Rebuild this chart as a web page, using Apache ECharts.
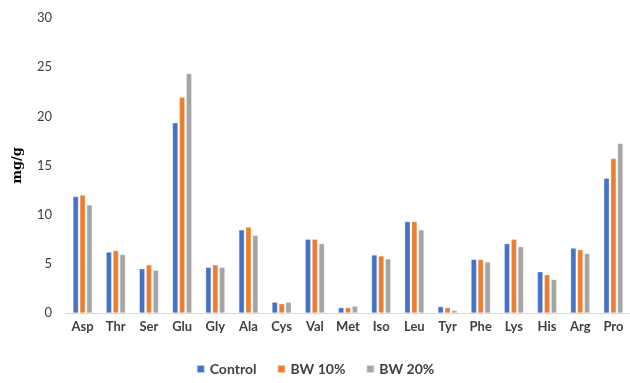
<!DOCTYPE html>
<html><head><meta charset="utf-8">
<script src="https://cdn.jsdelivr.net/npm/echarts@6/dist/echarts.min.js"></script>
<style>html,body{margin:0;padding:0;background:#fff}#c{width:630px;height:383px}</style>
</head><body><div id="c"></div>
<script>
const categories = ['Asp','Thr','Ser','Glu','Gly','Ala','Cys','Val','Met','Iso','Leu','Tyr','Phe','Lys','His','Arg','Pro'];
const control = [11.85,6.2,4.5,19.35,4.65,8.45,1.1,7.5,0.55,5.9,9.3,0.65,5.45,7.05,4.2,6.6,13.7];
const bw10 = [12.0,6.35,4.9,21.95,4.9,8.75,0.95,7.5,0.55,5.8,9.3,0.55,5.45,7.5,3.9,6.45,15.7];
const bw20 = [11.0,5.95,4.35,24.35,4.65,7.9,1.1,7.05,0.7,5.5,8.45,0.25,5.2,6.75,3.4,6.05,17.25];
const yTicks = [0,5,10,15,20,25,30];

const font = 'Lato, "Noto Sans", sans-serif';
const chart = echarts.init(document.getElementById('c'));
function s(name, data, color){
  return {name, type:'bar', data, barWidth:5.5, barGap:'25%',
    itemStyle:{color, borderColor:'rgba(255,255,255,0.6)', borderWidth:0.5}};
}
chart.setOption({
  animation:false,
  grid:{left:66, right:-2, top:18, bottom:70},
  legend:{bottom:2, left:'center', itemWidth:8, itemHeight:8, itemGap:20, icon:'rect',
    textStyle:{fontFamily:font, fontSize:14, fontWeight:'bold', color:'#404040'}},
  xAxis:{type:'category', data:categories,
    axisLine:{lineStyle:{color:'#d9d9d9'}}, axisTick:{show:false},
    axisLabel:{fontFamily:font, fontSize:13, fontWeight:'bold', color:'#404040', margin:7, interval:0}},
  yAxis:{type:'value', min:yTicks[0], max:yTicks[yTicks.length-1], interval:5,
    name:'mg/g', nameLocation:'middle', nameGap:42, nameRotate:90,
    nameTextStyle:{fontFamily:'"DejaVu Serif", serif', fontSize:13, fontWeight:'bold', color:'#000'},
    splitLine:{show:false}, axisLine:{show:false}, axisTick:{show:false},
    axisLabel:{fontFamily:font, fontSize:13, color:'#404040', margin:14}},
  series:[s('Control',control,'#4472C4'), s('BW 10%',bw10,'#ED7D31'), s('BW 20%',bw20,'#A5A5A5')]
});
</script></body></html>
